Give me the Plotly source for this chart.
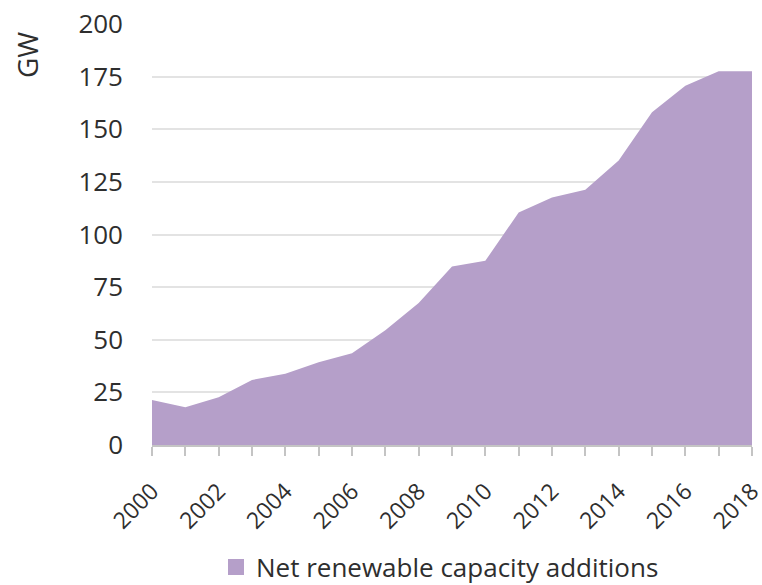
import plotly.graph_objects as go

years = list(range(2000, 2019))
capacity_gw = [21.4, 17.9, 22.7, 30.9, 33.8, 39.3, 43.6, 54.5, 67.4, 84.8, 87.5,
               110.5, 117.6, 121.3, 135.2, 158.1, 170.7, 177.5, 177.5]
y_ticks = [0, 25, 50, 75, 100, 125, 150, 175, 200]
x_tick_labels = [str(y) if y % 2 == 0 else "" for y in years]

series_name = "Net renewable capacity additions"
fill_color = "#b59fc9"
font_family = "Open Sans, DejaVu Sans, sans-serif"
text_color = "#2e2e2e"

fig = go.Figure()
fig.add_trace(go.Scatter(
    x=years, y=capacity_gw, mode="lines", fill="tozeroy",
    line=dict(width=0, color=fill_color), fillcolor=fill_color,
    showlegend=False, hoverinfo="x+y",
))
fig.add_trace(go.Scatter(
    x=[None], y=[None], mode="markers", name=series_name,
    marker=dict(symbol="square", size=18, color=fill_color),
    showlegend=True,
))

fig.update_layout(
    width=762, height=585,
    margin=dict(l=152, r=10, t=24, b=140, autoexpand=False),
    paper_bgcolor="white", plot_bgcolor="white",
    font=dict(family=font_family, color=text_color, size=24),
    legend=dict(orientation="h", x=(440 - 152) / 600, xanchor="center", y=(445 - 567) / 421,
                yanchor="middle", font=dict(size=26, color=text_color), itemsizing="trace",
                borderwidth=0, tracegroupgap=0, itemwidth=30),
    annotations=[dict(text="GW", textangle=-90, xref="paper", yref="paper",
                      x=(27 - 152) / 600, y=(445 - 55) / 421, xanchor="center",
                      yanchor="middle", showarrow=False,
                      font=dict(size=28, color=text_color))],
)
fig.update_xaxes(
    range=[2000, 2018], tickvals=years, ticktext=x_tick_labels, tickangle=-45,
    ticks="outside", ticklen=9, tickcolor="#c4c4c4", tickwidth=1.5,
    showline=True, linecolor="#c4c4c4", linewidth=1.5, automargin=False,
    ticklabeloverflow="allow", ticklabelstandoff=13,
    showgrid=False, zeroline=False, tickfont=dict(size=23, color=text_color),
)
fig.update_yaxes(
    range=[0, 200], tickvals=y_ticks, showgrid=True, gridcolor="#e3e3e3", gridwidth=1.5,
    zeroline=False, showline=False, ticks="", ticklabelstandoff=28, automargin=False,
    tickfont=dict(size=26, color=text_color),
)

fig.write_html("out.html")
